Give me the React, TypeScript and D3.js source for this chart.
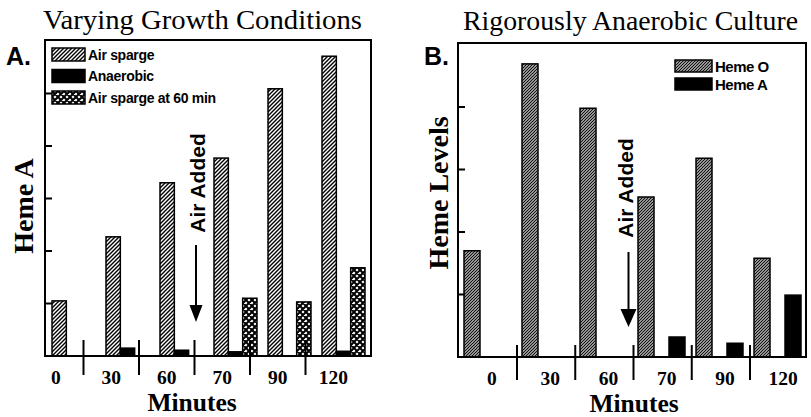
import React from "react";
import * as d3 from "d3";

const categories = ["0", "30", "60", "70", "90", "120"];
// Panel A: Heme A under varying growth conditions
const airSparge = [1.05, 2.27, 3.3, 3.77, 5.09, 5.71];
const anaerobic = [0, 0.15, 0.11, 0.08, 0, 0.09];
const airSparge60 = [0, 0, 0, 1.1, 1.03, 1.68];
// Panel B: rigorously anaerobic culture
const hemeO = [1.7, 4.69, 3.98, 2.56, 3.18, 1.58];
const hemeA = [0, 0, 0, 0.32, 0.22, 0.99];
const yTicksA = [1, 2, 3, 4, 5];
const yTicksB = [1, 2, 3, 4];
const seriesA = ["Air sparge", "Anaerobic", "Air sparge at 60 min"];
const seriesB = ["Heme O", "Heme A"];

const W = 811;
const H = 417;
const serif = "'Liberation Serif', 'Times New Roman', serif";
const sans = "'Liberation Sans', Arial, sans-serif";

export default function App() {
  // Panel A scales
  const A = { left: 45, right: 371, top: 40, bottom: 356 };
  const yA = d3.scaleLinear().domain([0, 6]).range([356, 41]);
  const xLabA = d3.scaleBand().domain(categories).range([28, 361]);
  const xBarA = d3.scaleBand().domain(categories).range([52, 365]).paddingInner(0.204);
  const subA = d3.scaleBand().domain(seriesA).range([0, xBarA.bandwidth()]);
  const fillsA = ["url(#hatchA)", "#000", "url(#cross)"];
  const dataA = [airSparge, anaerobic, airSparge60];

  // Panel B scales
  const B = { left: 458, right: 806, top: 43, bottom: 357 };
  const yB = d3.scaleLinear().domain([0, 5]).range([357, 44.5]);
  const xLabB = d3.scaleBand().domain(categories).range([458.75, 808.25]);
  const xBarB = d3.scaleBand().domain(categories).range([464, 801]).paddingInner(0.19);
  const subB = d3.scaleBand().domain(seriesB).range([0, xBarB.bandwidth()]).paddingInner(0.484);
  const fillsB = ["url(#hatchB)", "#000"];
  const dataB = [hemeO, hemeA];

  const sepA = categories.slice(1).map((c) => xLabA(c)!);
  const sepB = categories.slice(1).map((c) => xLabB(c)!);

  const arrowAx = sepA[2] + 1.5;
  const arrowBx = sepB[2] - 5;

  return (
    <svg width={W} height={H} style={{ position: "absolute", left: 0, top: 0, background: "#fff" }}>
      <defs>
        <pattern id="hatchA" patternUnits="userSpaceOnUse" width={4} height={4}>
          <rect width={4} height={4} fill="#fff" />
          <path d="M-1,1 l2,-2 M0,4 l4,-4 M3,5 l2,-2" stroke="#000" strokeWidth={1.4} />
        </pattern>
        <pattern id="hatchB" patternUnits="userSpaceOnUse" width={3} height={3}>
          <rect width={3} height={3} fill="#fff" />
          <path d="M-1,1 l2,-2 M0,3 l3,-3 M2,4 l2,-2" stroke="#111" strokeWidth={1.3} />
        </pattern>
        <pattern id="cross" patternUnits="userSpaceOnUse" width={6} height={6}>
          <rect width={6} height={6} fill="#fff" />
          <path d="M0,0 L6,6 M6,0 L0,6 M-1,5 L1,7 M5,-1 L7,1 M-1,1 L1,-1 M5,7 L7,5" stroke="#000" strokeWidth={2} />
        </pattern>
      </defs>

      {/* Titles */}
      <text x={43} y={29} fontFamily={serif} fontSize={27} textLength={319} lengthAdjust="spacingAndGlyphs">
        Varying Growth Conditions
      </text>
      <text x={463} y={30} fontFamily={serif} fontSize={27} textLength={335} lengthAdjust="spacingAndGlyphs">
        Rigorously Anaerobic Culture
      </text>
      <text x={6} y={65} fontFamily={sans} fontWeight="bold" fontSize={25}>A.</text>
      <text x={424} y={65} fontFamily={sans} fontWeight="bold" fontSize={25}>B.</text>

      {/* ===== Panel A ===== */}
      {dataA.map((series, si) =>
        series.map((v, i) =>
          v > 0 ? (
            <rect
              key={`a${si}-${i}`}
              x={xBarA(categories[i])! + subA(seriesA[si])!}
              y={yA(v)}
              width={subA.bandwidth()}
              height={yA(0) - yA(v)}
              fill={fillsA[si]}
              stroke="#000"
              strokeWidth={1.5}
            />
          ) : null
        )
      )}
      <rect x={A.left} y={A.top} width={A.right - A.left} height={A.bottom - A.top} fill="none" stroke="#000" strokeWidth={2} />
      {yTicksA.map((t) => (
        <line key={`ta${t}`} x1={A.left} x2={A.left + 7} y1={yA(t)} y2={yA(t)} stroke="#000" strokeWidth={2} />
      ))}
      {sepA.map((x, i) => (
        <line key={`sa${i}`} x1={x} x2={x} y1={A.bottom - 16} y2={A.bottom + 19} stroke="#000" strokeWidth={2} />
      ))}
      {categories.map((c) => (
        <text key={`la${c}`} x={xLabA(c)! + xLabA.bandwidth() / 2} y={384} textAnchor="middle" fontFamily={serif} fontWeight="bold" fontSize={19.5}>
          {c}
        </text>
      ))}
      <text x={192} y={411} textAnchor="middle" fontFamily={serif} fontWeight="bold" fontSize={25.5}>Minutes</text>
      <text transform="translate(33,206) rotate(-90)" textAnchor="middle" fontFamily={serif} fontWeight="bold" fontSize={28}>Heme A</text>
      {/* Legend A */}
      {seriesA.map((s, i) => (
        <g key={`lgA${i}`} transform={`translate(52,${48 + i * 21.5})`}>
          <rect width={33} height={13} fill={fillsA[i]} stroke="#000" strokeWidth={1.5} />
          <text x={36} y={11.5} fontFamily={sans} fontWeight="bold" fontSize={14} letterSpacing={-0.3}>{s}</text>
        </g>
      ))}
      {/* Air added annotation A */}
      <text transform={`translate(${arrowAx + 9},183) rotate(-90)`} textAnchor="middle" fontFamily={sans} fontWeight="bold" fontSize={21}>Air Added</text>
      <line x1={arrowAx} x2={arrowAx} y1={245} y2={308} stroke="#000" strokeWidth={2} />
      <path d={`M${arrowAx - 6.5},305 L${arrowAx + 6.5},305 L${arrowAx},322 Z`} fill="#000" />

      {/* ===== Panel B ===== */}
      {dataB.map((series, si) =>
        series.map((v, i) =>
          v > 0 ? (
            <rect
              key={`b${si}-${i}`}
              x={xBarB(categories[i])! + subB(seriesB[si])!}
              y={yB(v)}
              width={subB.bandwidth()}
              height={yB(0) - yB(v)}
              fill={fillsB[si]}
              stroke="#000"
              strokeWidth={1.5}
            />
          ) : null
        )
      )}
      <rect x={B.left} y={B.top} width={B.right - B.left} height={B.bottom - B.top} fill="none" stroke="#000" strokeWidth={2} />
      {yTicksB.map((t) => (
        <line key={`tb${t}`} x1={B.left} x2={B.left + 7} y1={yB(t)} y2={yB(t)} stroke="#000" strokeWidth={2} />
      ))}
      {sepB.map((x, i) => (
        <line key={`sb${i}`} x1={x} x2={x} y1={B.bottom - 12} y2={B.bottom + 23} stroke="#000" strokeWidth={2} />
      ))}
      {categories.map((c) => (
        <text key={`lb${c}`} x={xLabB(c)! + xLabB.bandwidth() / 2 + 4} y={384.5} textAnchor="middle" fontFamily={serif} fontWeight="bold" fontSize={19.5}>
          {c}
        </text>
      ))}
      <text x={634} y={411.5} textAnchor="middle" fontFamily={serif} fontWeight="bold" fontSize={25.5}>Minutes</text>
      <text transform="translate(448,193) rotate(-90)" textAnchor="middle" fontFamily={serif} fontWeight="bold" fontSize={28}>Heme Levels</text>
      {/* Legend B */}
      {seriesB.map((s, i) => (
        <g key={`lgB${i}`} transform={`translate(675,${60 + i * 18})`}>
          <rect width={37} height={12} fill={fillsB[i]} stroke="#000" strokeWidth={1.5} />
          <text x={40} y={11.5} fontFamily={sans} fontWeight="bold" fontSize={15} letterSpacing={-0.5}>{s}</text>
        </g>
      ))}
      {/* Air added annotation B */}
      <text transform={`translate(${arrowBx + 4},188) rotate(-90)`} textAnchor="middle" fontFamily={sans} fontWeight="bold" fontSize={21}>Air Added</text>
      <line x1={arrowBx} x2={arrowBx} y1={252} y2={312} stroke="#000" strokeWidth={2} />
      <path d={`M${arrowBx - 8},309 L${arrowBx + 8},309 L${arrowBx},327 Z`} fill="#000" />
    </svg>
  );
}
